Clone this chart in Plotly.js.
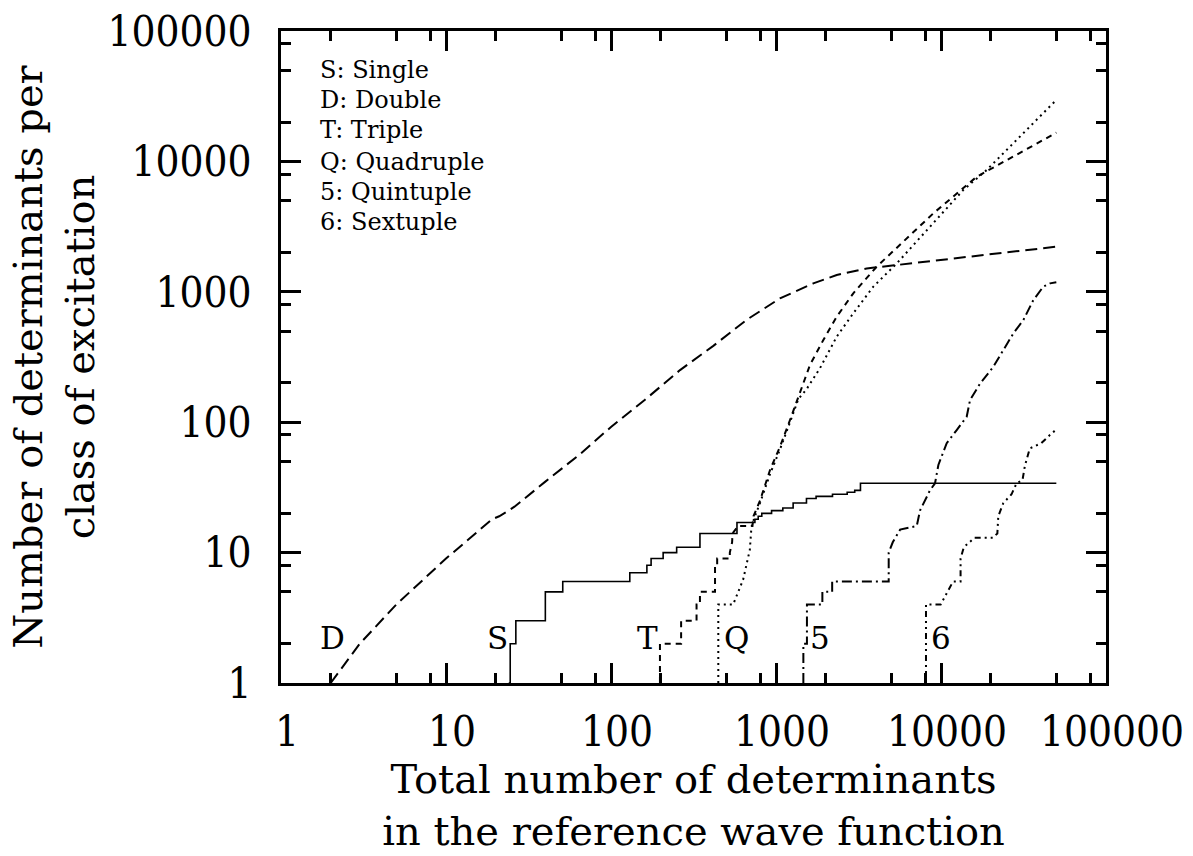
<!DOCTYPE html>
<html>
<head>
<meta charset="utf-8">
<script src="https://cdn.plot.ly/plotly-3.0.1.min.js"></script>
<style>html,body{margin:0;padding:0;background:#fff;}#chart{width:1193px;height:856px;}</style>
</head>
<body>
<div id="chart"></div>
<script>
// ---- Data (total determinants N vs. count per excitation class) ----
const singleN = [24, 24.5, 26.5, 40, 51, 130, 165, 175, 207, 250, 346, 580, 745, 780, 820, 940, 1100, 1270, 1530, 1750, 2200, 2700, 3000, 3250, 50000];
const singleV = [1, 2, 3, 5, 6, 7, 8, 9, 10, 11, 14, 17, 18, 19, 20, 21, 22, 24, 26, 27, 28, 29, 30, 34, 34];

const doubleN = [2, 3, 5, 10, 19, 21, 24, 26, 40, 65, 100, 160, 262, 417, 664, 1057, 1683, 2333, 3548, 5390, 10000, 17220, 30000, 50000];
const doubleV = [1, 2, 4, 9, 18, 19, 21, 22.5, 35, 57, 92, 148, 251, 385, 610, 890, 1160, 1345, 1510, 1604, 1760, 1915, 2060, 2218];

const tripleN = [198, 198, 266, 266, 330, 330, 346, 346, 427, 427, 440, 440, 525, 525, 542, 545, 590, 720, 730, 800, 920, 1058, 1216, 1365, 1607, 1936, 2333, 2940, 4074, 8976, 16440, 50000];
const tripleV = [1, 2, 2, 3, 3, 4, 4, 5, 5, 8, 8, 9, 9, 10, 12, 14, 16, 16, 19, 25, 43, 65, 104, 157, 275, 427, 644, 973, 1557, 3990, 7620, 16600];

const quadN = [447, 447, 550, 632, 694, 710, 745, 800, 920, 1058, 1216, 1365, 1535, 1849, 2333, 2940, 3890, 5390, 13650, 18920, 50000];
const quadV = [1, 4, 4, 6.2, 10.5, 15.8, 19, 24, 40, 62, 100, 150, 180, 260, 453, 684, 1096, 1649, 6040, 8590, 29580];

const quintN = [1465, 1465, 1540, 1540, 1910, 1910, 2190, 2190, 4820, 4820, 5100, 5650, 7130, 7460, 8570, 9200, 9640, 10830, 12450, 14310, 15000, 17220, 20750, 23870, 27420, 31550, 36250, 41690, 45800, 50000];
const quintV = [1, 2, 2, 4, 4, 5, 5, 6, 6, 10, 12, 15, 16, 21, 30, 34, 47, 69, 87, 110, 148, 197, 266, 357, 479, 607, 862, 1096, 1161, 1183];

const sextN = [8110, 8110, 9950, 10930, 11830, 13140, 13140, 13750, 15980, 20640, 21950, 22240, 23870, 26760, 28700, 31180, 32210, 34520, 40520, 45800, 50000];
const sextV = [1, 4, 4, 5, 6, 6, 9, 11, 13, 13, 14, 19, 24, 28, 34, 36, 46, 63, 69, 80, 88];

const majorTicks = [1, 10, 100, 1000, 10000, 100000];
const majorLabels = ['1', '10', '100', '1000', '10000', '100000'];
const minorMult = [2, 5, 8];

const legendLines = ['S: Single', 'D: Double', 'T: Triple', 'Q: Quadruple', '5: Quintuple', '6: Sextuple'];
const curveTags = ['D', 'S', 'T', 'Q', '5', '6'];
const curveTagN = [2.04, 20.5, 166, 576, 1849, 10000];
const curveTagV = 2.2;

// ---- Build ----
const minorTicks = [];
majorTicks.slice(0, -1).forEach(d => minorMult.forEach(m => minorTicks.push(d * m)));

const serif = 'DejaVu Serif, Liberation Serif, serif';
const tickFont = {family: 'DejaVu Serif Condensed, DejaVu Serif, serif', size: 42, color: '#000'};

function tr(x, y, dash, width, shape) {
  return {x: x, y: y, type: 'scatter', mode: 'lines', hoverinfo: 'skip',
          line: {color: '#000', width: width, dash: dash, shape: shape || 'linear'}};
}

const traces = [
  tr(singleN, singleV, 'solid', 1.6, 'hv'),
  tr(doubleN, doubleV, '12px,6px', 2),
  tr(tripleN, tripleV, '6px,5px', 2),
  tr(quadN, quadV, '2px,4px', 2),
  tr(quintN, quintV, '10px,4px,2px,4px', 2),
  tr(sextN, sextV, '6px,4px,2px,4px,2px,4px', 2)
];

const axisCommon = {
  type: 'log', range: [0, 5], showgrid: false, zeroline: false,
  showline: true, linewidth: 3, linecolor: '#000', mirror: 'ticks',
  ticks: 'inside', ticklen: 20, tickwidth: 3, tickcolor: '#000',
  tickmode: 'array', tickvals: majorTicks, ticktext: majorLabels,
  tickfont: tickFont,
  minor: {tickmode: 'array', tickvals: minorTicks, ticks: 'inside', ticklen: 10, tickwidth: 3, tickcolor: '#000', showgrid: false}
};

const annotations = [];
const legY = [70, 100, 130, 161.7, 191.7, 221.7];
legendLines.forEach((t, i) => annotations.push({
  xref: 'paper', yref: 'paper', x: (318 - 281) / 825, y: (683 - legY[i]) / 652,
  xanchor: 'left', yanchor: 'middle', showarrow: false, text: t,
  font: {family: serif, size: 24, color: '#000'}
}));
curveTags.forEach((t, i) => annotations.push({
  xref: 'x', yref: 'y', x: Math.log10(curveTagN[i]), y: Math.log10(curveTagV),
  xanchor: 'center', yanchor: 'middle', showarrow: false, text: t,
  font: {family: serif, size: 31, color: '#000'}
}));

const layout = {
  width: 1193, height: 856,
  margin: {l: 281, r: 87, t: 31, b: 173},
  paper_bgcolor: '#fff', plot_bgcolor: '#fff',
  showlegend: false,
  xaxis: Object.assign({}, axisCommon, {
    ticklabelstandoff: 10, ticklabelshift: 6,
    title: {text: 'Total number of determinants<br>in the reference wave function',
            font: {family: serif, size: 40, color: '#000'}, standoff: 10}
  }),
  yaxis: Object.assign({}, axisCommon, {
    ticklabelstandoff: 18,
    title: {text: 'Number of determinants per<br>class of excitation',
            font: {family: serif, size: 40, color: '#000'}, standoff: 1}
  }),
  annotations: annotations
};

Plotly.newPlot('chart', traces, layout, {displayModeBar: false, staticPlot: true});
</script>
</body>
</html>
